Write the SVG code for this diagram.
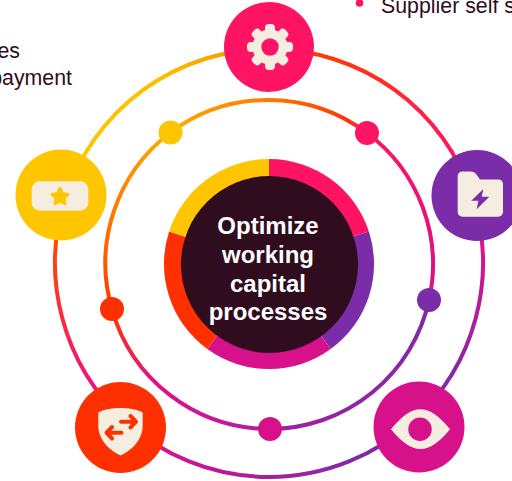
<svg xmlns="http://www.w3.org/2000/svg" width="512" height="481" viewBox="0 0 512 481">
<style>
.ring{fill:none;stroke-width:4;stroke-linecap:butt}
.label{font-family:"Liberation Sans",Arial,sans-serif;font-size:21.33px;fill:#2F0D1E}
.title{font-family:"Liberation Sans",Arial,sans-serif;font-size:24px;font-weight:bold;fill:#FFFFFF;text-anchor:middle}
.cream{fill:#F5EEE0}
</style>
<defs>
<linearGradient id="o1" gradientUnits="userSpaceOnUse" x1="80" y1="170" x2="240" y2="50"><stop offset="0" stop-color="#FFC600"/><stop offset="0.6" stop-color="#FFBE00"/><stop offset="1" stop-color="#FF9400"/></linearGradient>
<linearGradient id="o2" gradientUnits="userSpaceOnUse" x1="310" y1="54" x2="455" y2="170"><stop offset="0" stop-color="#FF3C00"/><stop offset="1" stop-color="#FF1464"/></linearGradient>
<linearGradient id="o3" gradientUnits="userSpaceOnUse" x1="483" y1="240" x2="445" y2="385"><stop offset="0" stop-color="#E2108E"/><stop offset="1" stop-color="#7B2CA8"/></linearGradient>
<linearGradient id="o4" gradientUnits="userSpaceOnUse" x1="378" y1="447" x2="160" y2="447"><stop offset="0" stop-color="#7B2CA8"/><stop offset="1" stop-color="#D6118A"/></linearGradient>
<linearGradient id="o5" gradientUnits="userSpaceOnUse" x1="95" y1="385" x2="55" y2="240"><stop offset="0" stop-color="#F0107A"/><stop offset="1" stop-color="#FF4A00"/></linearGradient>
<linearGradient id="i1" gradientUnits="userSpaceOnUse" x1="112" y1="309" x2="170" y2="133"><stop offset="0" stop-color="#FF3600"/><stop offset="0.35" stop-color="#FF6A00"/><stop offset="1" stop-color="#FFAA00"/></linearGradient>
<linearGradient id="i2" gradientUnits="userSpaceOnUse" x1="171" y1="120" x2="367" y2="120"><stop offset="0" stop-color="#FFAA00"/><stop offset="0.5" stop-color="#FF7A00"/><stop offset="0.85" stop-color="#FF3C00"/><stop offset="1" stop-color="#FF1E40"/></linearGradient>
<linearGradient id="i3" gradientUnits="userSpaceOnUse" x1="367" y1="133" x2="429" y2="300"><stop offset="0" stop-color="#FF1464"/><stop offset="1" stop-color="#D6118A"/></linearGradient>
<linearGradient id="i4" gradientUnits="userSpaceOnUse" x1="429" y1="300" x2="270" y2="429"><stop offset="0" stop-color="#7B2CA8"/><stop offset="1" stop-color="#A01FA0"/></linearGradient>
<linearGradient id="i5" gradientUnits="userSpaceOnUse" x1="270" y1="429" x2="112" y2="309"><stop offset="0" stop-color="#B01CA0"/><stop offset="0.6" stop-color="#E0108A"/><stop offset="1" stop-color="#FF3600"/></linearGradient>
</defs>

<g id="connectors">
<path class="ring" stroke="url(#o1)" d="M65.5 197A214 214 0 0 1 269 49"/>
<path class="ring" stroke="url(#o2)" d="M269 49A214 214 0 0 1 472.5 197"/>
<path class="ring" stroke="url(#o3)" d="M472.5 197A214 214 0 0 1 413.3 421"/>
<path class="ring" stroke="url(#o4)" d="M413.3 421A214 214 0 0 1 124.7 421"/>
<path class="ring" stroke="url(#o5)" d="M124.7 421A214 214 0 0 1 65.5 197"/>
<path class="ring" stroke="url(#i1)" d="M112 309A163.5 163.5 0 0 1 170.5 132.5"/>
<path class="ring" stroke="url(#i2)" d="M170.5 132.5A163.5 163.5 0 0 1 367 133"/>
<path class="ring" stroke="url(#i3)" d="M367 133A163.5 163.5 0 0 1 429 300"/>
<path class="ring" stroke="url(#i4)" d="M429 300A163.5 163.5 0 0 1 270 429"/>
<path class="ring" stroke="url(#i5)" d="M270 429A163.5 163.5 0 0 1 112 309"/>
</g>

<g id="dots">
<circle cx="170.5" cy="132.5" r="12" fill="#FFC600"/>
<circle cx="367" cy="133" r="12" fill="#FF1464"/>
<circle cx="429" cy="300" r="12" fill="#7B2CA8"/>
<circle cx="270" cy="429" r="12" fill="#D6118A"/>
<circle cx="112" cy="309" r="12" fill="#FF3000"/>
</g>

<g id="center">
<path fill="#FF1464" d="M269 159A105 105 0 0 1 368.9 231.6L269 264Z"/>
<path fill="#7B2CA8" d="M368.9 231.6A105 105 0 0 1 330.7 349L269 264Z"/>
<path fill="#D6118A" d="M330.7 349A105 105 0 0 1 207.3 349L269 264Z"/>
<path fill="#FF3000" d="M207.3 349A105 105 0 0 1 169.1 231.6L269 264Z"/>
<path fill="#FFC600" d="M169.1 231.6A105 105 0 0 1 269 159L269 264Z"/>
<circle cx="269.5" cy="264.5" r="88.5" fill="#2F0D1E"/>
<text class="title" x="268" y="234">Optimize</text>
<text class="title" x="268" y="263">working</text>
<text class="title" x="268" y="291.5">capital</text>
<text class="title" x="268" y="320">processes</text>
</g>

<g id="node-gear">
<circle cx="269" cy="47" r="45" fill="#FF1464"/>
<g class="cream">
<circle cx="270" cy="47" r="17.5"/>
<rect x="265" y="24" width="10" height="46" rx="4"/>
<rect x="265" y="24" width="10" height="46" rx="4" transform="rotate(45 270 47)"/>
<rect x="265" y="24" width="10" height="46" rx="4" transform="rotate(90 270 47)"/>
<rect x="265" y="24" width="10" height="46" rx="4" transform="rotate(135 270 47)"/>
</g>
<circle cx="270" cy="47" r="8.7" fill="#FF1464"/>
</g>

<g id="node-folder">
<circle cx="477" cy="195.5" r="45.5" fill="#7B2CA8"/>
<path class="cream" d="M462.5 171.5H470.5C473.5 171.5 475 172.5 476.5 174.5L480 179.5H498.5C501 179.5 503 181.5 503 184V212C503 214.7 501 216.7 498.5 216.7H462.5C460 216.7 457.7 214.7 457.7 212V176C457.7 173.5 460 171.5 462.5 171.5Z"/>
<path fill="#7B2CA8" d="M483.3 189L471.3 200.7H478.3L476.7 209.3L489.3 196.7H481.7Z"/>
</g>

<g id="node-eye">
<circle cx="419" cy="427" r="45.5" fill="#D6118A"/>
<path class="cream" d="M391 429.3C402 416 411 409.3 420.5 409.3C430 409.3 439 416 450 429.3C439 442.5 430 449 420.5 449C411 449 402 442.5 391 429.3Z"/>
<circle cx="420" cy="429.3" r="11.7" fill="#D6118A"/>
</g>

<g id="node-shield">
<circle cx="120.5" cy="427.5" r="45.5" fill="#FF3000"/>
<path class="cream" d="M98.3 412.5C105 409 113 408 120.5 408C128 408 136 409 142.7 412.5V425C142.7 440 132 450 120.5 455.5C109 450 98.3 440 98.3 425Z"/>
<g fill="none" stroke="#FF3000" stroke-width="4" stroke-linecap="round" stroke-linejoin="round">
<path d="M121 421.7H136M130.5 416L136 421.7L130.5 427.5"/>
<path d="M106.5 432.7H121.5M112 427L106.5 432.7L112 438.5"/>
</g>
</g>

<g id="node-ticket">
<circle cx="61" cy="195" r="45.5" fill="#FFC600"/>
<rect class="cream" x="31.7" y="181.3" width="56.6" height="29.4" rx="8"/>
<path fill="#FFC600" stroke="#FFC600" stroke-width="3" stroke-linejoin="round" d="M60 188.5L62.4 193.7L68 194.4L63.9 198.2L65 203.8L60 201L55 203.8L56.1 198.2L52 194.4L57.6 193.7Z"/>
</g>

<g id="text-left">
<text class="label" x="20" y="58" text-anchor="end">es</text>
<text class="label" x="72" y="85" text-anchor="end">payment</text>
</g>
<g id="text-right">
<circle cx="359.5" cy="3" r="3.8" fill="#FF1464"/>
<text class="label" x="381" y="12.5">Supplier self s</text>
</g>
</svg>
